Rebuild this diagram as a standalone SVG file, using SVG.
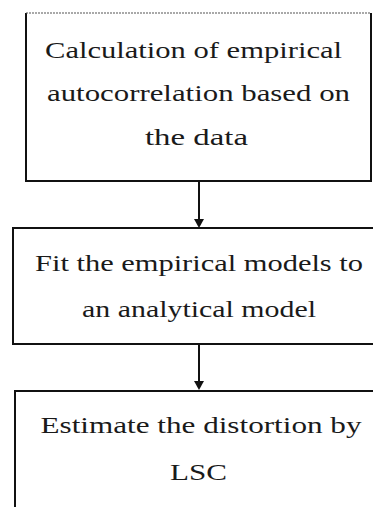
<svg xmlns="http://www.w3.org/2000/svg" width="373" height="507" viewBox="0 0 373 507">
<style>
.box{fill:#fff;stroke:#111;stroke-width:2}
.t{font-family:'Liberation Serif','Times New Roman',serif;font-size:24px;fill:#1a1a1a;text-anchor:middle}
.c{stroke:#111;stroke-width:2;fill:none}
</style>
<rect width="373" height="507" fill="#fff"/>
<g id="node1">
<path class="box" d="M26,13 V181 H371 V13"/>
<line x1="26" y1="13" x2="371" y2="13" stroke="#555" stroke-width="1.2" stroke-dasharray="2 1"/>
<text class="t" x="193.5" y="58" textLength="297" lengthAdjust="spacingAndGlyphs">Calculation of empirical</text>
<text class="t" x="198.5" y="101" textLength="303" lengthAdjust="spacingAndGlyphs">autocorrelation based on</text>
<text class="t" x="196.5" y="145" textLength="103" lengthAdjust="spacingAndGlyphs">the data</text>
</g>
<g id="node2">
<rect class="box" x="13" y="228" width="370" height="116"/>
<text class="t" x="199" y="271" textLength="328" lengthAdjust="spacingAndGlyphs">Fit the empirical models to</text>
<text class="t" x="199" y="317" textLength="234" lengthAdjust="spacingAndGlyphs">an analytical model</text>
</g>
<g id="node3">
<path class="box" d="M15,520 V391 H380"/>
<text class="t" x="201" y="433" textLength="321" lengthAdjust="spacingAndGlyphs">Estimate the distortion by</text>
<text class="t" x="198.5" y="480" textLength="57" lengthAdjust="spacingAndGlyphs">LSC</text>
</g>
<g id="connectors">
<line class="c" x1="199" y1="182" x2="199" y2="220"/>
<polygon points="194,219 204,219 199,228" fill="#111"/>
<line class="c" x1="199" y1="345" x2="199" y2="382"/>
<polygon points="194,381 204,381 199,390" fill="#111"/>
</g>
</svg>
